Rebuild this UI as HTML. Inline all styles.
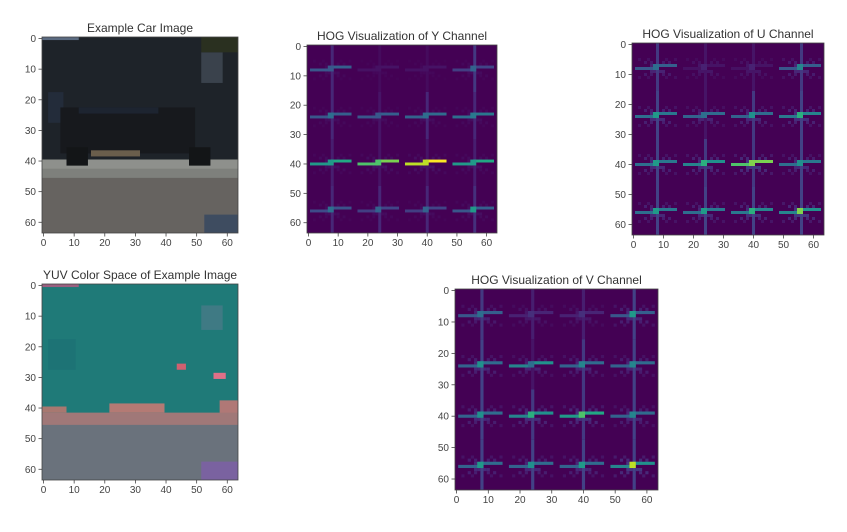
<!DOCTYPE html>
<html><head><meta charset="utf-8">
<style>
body{margin:0;background:#fff;width:847px;height:532px;overflow:hidden;font-family:"Liberation Sans",sans-serif;}
svg{display:block}
</style></head>
<body>
<svg id="fig" width="847" height="532" xmlns="http://www.w3.org/2000/svg"></svg>
<script>
// HOG cell data: 4x4 grid row-major (rows y=8,24,40,56; cols x=8,24,40,56)
const cellCenters = [8, 24, 40, 56];
const hogY_h = [0.3,0.05,0.05,0.2, 0.3,0.3,0.35,0.4, 0.6,0.8,1.0,0.6, 0.25,0.2,0.2,0.3];
const hogY_v = [0.2,0.05,0.05,0.3, 0.2,0.1,0.2,0.2, 0.15,0.1,0.1,0.15, 0.2,0.2,0.2,0.25];
const hogY_c = [0.3,0.05,0.05,0.35, 0.4,0.3,0.4,0.45, 0.6,0.8,1.0,0.6, 0.4,0.35,0.35,0.6];
const hogU_h = [0.3,0.05,0.05,0.3, 0.4,0.35,0.35,0.45, 0.4,0.5,0.8,0.4, 0.4,0.4,0.45,0.5];
const hogU_v = [0.3,0.1,0.1,0.3, 0.35,0.1,0.3,0.35, 0.35,0.3,0.3,0.35, 0.35,0.35,0.35,0.35];
const hogU_c = [0.4,0.1,0.1,0.5, 0.6,0.4,0.55,0.7, 0.6,0.7,0.9,0.55, 0.6,0.6,0.7,0.9];
const hogV_h = [0.3,0.1,0.1,0.3, 0.35,0.5,0.35,0.35, 0.35,0.5,0.6,0.35, 0.35,0.35,0.35,0.5];
const hogV_v = [0.3,0.15,0.15,0.35, 0.35,0.1,0.3,0.35, 0.35,0.3,0.3,0.35, 0.35,0.35,0.35,0.35];
const hogV_c = [0.4,0.15,0.15,0.6, 0.55,0.4,0.5,0.5, 0.55,0.7,0.8,0.5, 0.6,0.55,0.6,1.0];
const hogY_burst = 0.05, hogU_burst = 0.15, hogV_burst = 0.15;
const tickVals = [0,10,20,30,40,50,60];

const NS="http://www.w3.org/2000/svg";
const fig=document.getElementById('fig');
function el(tag,attrs,parent){const e=document.createElementNS(NS,tag);for(const k in attrs)e.setAttribute(k,attrs[k]);(parent||fig).appendChild(e);return e;}
const vir=[[68,1,84],[72,36,117],[65,68,135],[53,95,141],[42,120,142],[33,145,140],[34,168,132],[68,191,112],[122,209,81],[189,223,38],[253,231,37]];
function viridis(t){t=Math.max(0,Math.min(1,t));const f=t*10,i=Math.min(9,Math.floor(f)),r=f-i;const a=vir[i],b=vir[i+1];return `rgb(${a.map((v,k)=>Math.round(v+(b[k]-v)*r)).join(',')})`;}

function makeAxes(name,title,x0,y0,w,h){
  const g=el('g',{});
  const sx=v=>x0+(v+0.5)*w/64, sy=v=>y0+(v+0.5)*h/64;
  const t=el('text',{x:x0+w/2,y:y0-5,'text-anchor':'middle','font-size':'12','fill':'#333'},g);t.textContent=title;
  
  const plot=el('g',{},g);
  return {g,plot,sx,sy,x0,y0,w,h,finish(){
    el('rect',{x:x0,y:y0,width:w,height:h,fill:'none',stroke:'#444','stroke-width':0.8},g);
    tickVals.forEach(v=>{
      el('line',{x1:sx(v),x2:sx(v),y1:y0+h,y2:y0+h+3.5,stroke:'#444','stroke-width':0.8},g);
      const tx=el('text',{x:sx(v),y:y0+h+13,'text-anchor':'middle','font-size':'10','fill':'#444'},g);tx.textContent=v;
      
      el('line',{x1:x0-3.5,x2:x0,y1:sy(v),y2:sy(v),stroke:'#444','stroke-width':0.8},g);
      const ty=el('text',{x:x0-6,y:sy(v)+3.5,'text-anchor':'end','font-size':'10','fill':'#444'},g);ty.textContent=v;
      
    });
  }};
}
function px(a,x,y,wu,hu,fill,p){el('rect',{x:a.sx(x-0.5),y:a.sy(y-0.5),width:wu*a.w/64,height:hu*a.h/64,fill},p||a.plot);}

function hog(name,title,x0,y0,w,h,H,V,C,burst){
  const a=makeAxes(name,title,x0,y0,w,h);
  el('rect',{x:x0,y:y0,width:w,height:h,fill:viridis(0)},a.plot);
  for(let r=0;r<4;r++)for(let c=0;c<4;c++){
    const i=r*4+c,cx=cellCenters[c],cy=cellCenters[r];
    const cg=el('g',{},a.plot);
    const b=burst*(0.4+C[i]);
    for(let d=2;d<=6;d+=2){[[1,1],[1,-1],[-1,1],[-1,-1],[2,1],[-2,1],[2,-1],[-2,-1]].forEach(([dx,dy])=>{
      px(a,cx+Math.round(dx*d/2),cy+Math.round(dy*d/2),1,1,viridis(b*(1-d/9)),cg);});}
    px(a,cx,cy-8,1,16,viridis(V[i]*0.55),cg);
    px(a,cx-7,cy,7,1,viridis(H[i]*0.9),cg);
    px(a,cx,cy-1,7,1,viridis(H[i]),cg);
    px(a,cx-1,cy-1,2,2,viridis(C[i]*0.9),cg);
  }
  a.finish();
}

(function(){
  const a=makeAxes('car-image-axes','Example Car Image',42,37,196,196);
  px(a,0,0,64,64,'#1e2329');
  px(a,0,0,12,1,'#5a6a80');
  px(a,52,5,7,10,'#3a424c');
  px(a,52,0,12,5,'#2a3020');
  px(a,2,18,5,10,'#232c3a');
  px(a,6,23,44,15,'#17191d');
  px(a,12,23,26,2,'#1d2430');
  px(a,0,40,64,4,'#8e908c');
  px(a,16,37,16,2,'#6a5e4c');
  px(a,0,43,64,6,'#7e807c');
  px(a,0,46,64,18,'#666360');
  px(a,8,36,7,6,'#131517');px(a,48,36,7,6,'#131517');
  px(a,53,58,11,6,'#3e4c60');
  a.finish();
})();
(function(){
  const a=makeAxes('yuv-image-axes','YUV Color Space of Example Image',42,284,196,196);
  px(a,0,0,64,64,'#1f7a78');
  px(a,0,0,12,1,'#9a6080');
  px(a,52,7,7,8,'#3f7a84');
  px(a,2,18,9,10,'#1d7375');
  px(a,44,26,3,2,'#d06070');px(a,56,29,4,2,'#e07088');
  px(a,0,40,8,2,'#a87870');px(a,22,39,18,3,'#b47a74');px(a,58,38,6,5,'#b07876');
  px(a,0,42,64,5,'#a07878');
  px(a,0,46,64,18,'#6a727c');
  px(a,52,58,12,6,'#7a62a0');
  a.finish();
})();
hog('hog-y-axes','HOG Visualization of Y Channel',307,45,190,188,hogY_h,hogY_v,hogY_c,hogY_burst);
hog('hog-u-axes','HOG Visualization of U Channel',632,43,192,192,hogU_h,hogU_v,hogU_c,hogU_burst);
hog('hog-v-axes','HOG Visualization of V Channel',455,289,203,201,hogV_h,hogV_v,hogV_c,hogV_burst);
</script>
</body></html>
